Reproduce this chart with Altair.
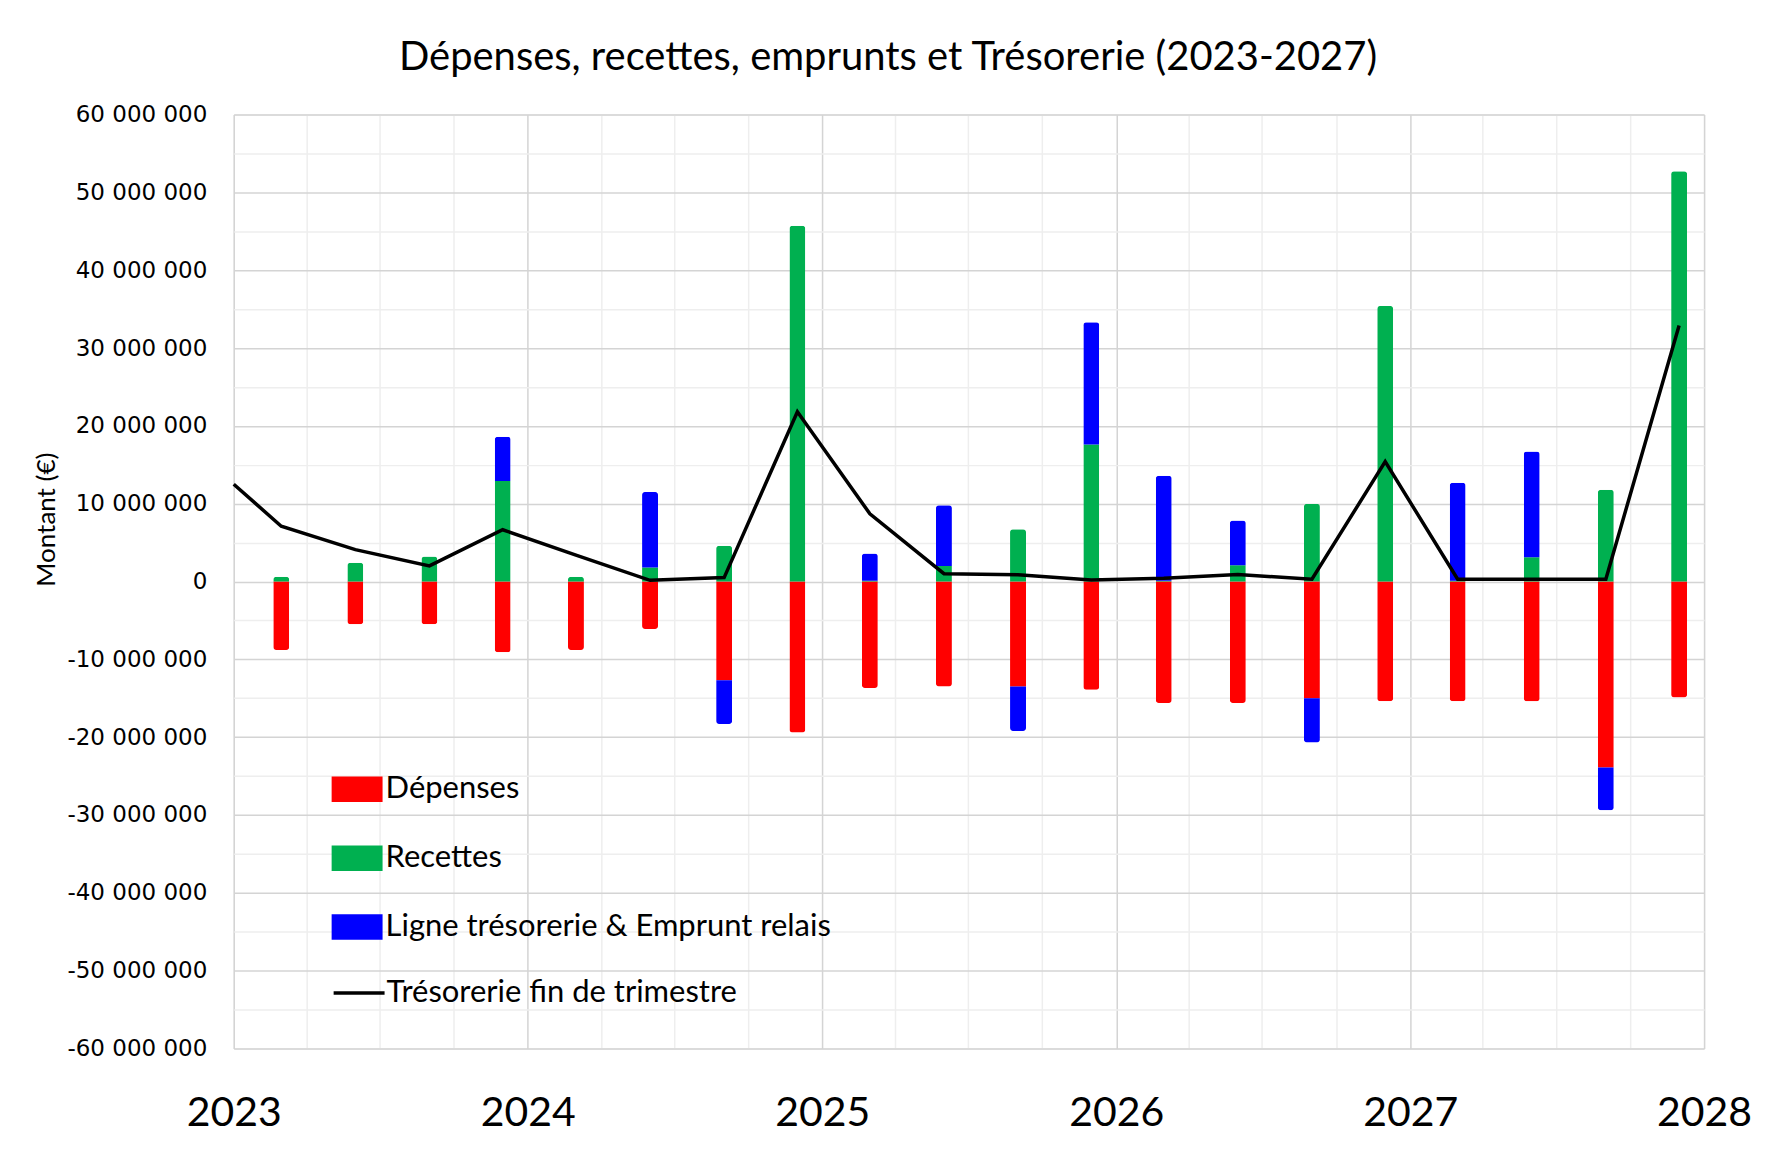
import altair as alt
import pandas as pd

# ---------------- data ----------------
dates = [
    "2023-03-01", "2023-06-01", "2023-09-01", "2023-12-01",
    "2024-03-01", "2024-06-01", "2024-09-01", "2024-12-01",
    "2025-03-01", "2025-06-01", "2025-09-01", "2025-12-01",
    "2026-03-01", "2026-06-01", "2026-09-01", "2026-12-01",
    "2027-03-01", "2027-06-01", "2027-09-01", "2027-12-01",
]
depenses = [
    -8_800_000, -5_500_000, -5_500_000, -9_100_000,
    -8_800_000, -6_100_000, -12_700_000, -19_400_000,
    -13_700_000, -13_500_000, -13_500_000, -13_900_000,
    -15_600_000, -15_600_000, -15_000_000, -15_400_000,
    -15_400_000, -15_400_000, -23_900_000, -14_900_000,
]
recettes = [
    600_000, 2_400_000, 3_200_000, 12_900_000,
    600_000, 1_800_000, 4_600_000, 45_700_000,
    100_000, 2_000_000, 6_700_000, 17_600_000,
    100_000, 2_100_000, 10_000_000, 35_400_000,
    100_000, 3_100_000, 11_800_000, 52_700_000,
]
ligne = [
    0, 0, 0, 5_700_000,
    0, 9_700_000, -5_600_000, 0,
    3_500_000, 7_800_000, -5_700_000, 15_700_000,
    13_500_000, 5_750_000, -5_700_000, 0,
    12_600_000, 13_600_000, -5_500_000, 0,
]
tresorerie_dates = ["2023-01-01"] + dates
tresorerie = [
    12_500_000,
    7_100_000, 4_100_000, 2_000_000, 6_650_000,
    3_400_000, 150_000, 500_000, 21_800_000,
    8_700_000, 1_000_000, 860_000, 200_000,
    430_000, 900_000, 300_000, 15_400_000,
    300_000, 300_000, 300_000, 32_900_000,
]

series_names = ["Dépenses", "Recettes", "Ligne trésorerie & Emprunt relais"]
series_colors = ["#FF0000", "#00B050", "#0000FF"]
line_name = "Trésorerie fin de trimestre"
title_text = "Dépenses, recettes, emprunts et Trésorerie (2023-2027)"
y_title = "Montant (€)"

y_ticks = [v * 5_000_000 for v in range(-12, 13)]
x_ticks = [alt.DateTime(year=y, month=m, date=1, utc=True)
           for y in range(2023, 2028) for m in (1, 4, 7, 10)]
x_ticks.append(alt.DateTime(year=2028, month=1, date=1, utc=True))

# ---------------- tables ----------------
rows = []
for i, d in enumerate(dates):
    for k, vals in enumerate([depenses, recettes, ligne]):
        rows.append({"date": d, "serie": series_names[k], "montant": vals[i], "ordre": k})
bars_df = pd.DataFrame(rows)
line_df = pd.DataFrame({"date": tresorerie_dates, "tresorerie": tresorerie,
                        "serie": [line_name] * len(tresorerie)})

# ---------------- scales / axes ----------------
x_scale = alt.Scale(type="utc", nice=False, padding=0,
                    domain=[alt.DateTime(year=2023, month=1, date=1, utc=True),
                            alt.DateTime(year=2028, month=1, date=1, utc=True)])
y_scale = alt.Scale(domain=[-60_000_000, 60_000_000], nice=False, zero=False)

x_axis = alt.Axis(
    values=x_ticks,
    labelExpr="utcmonth(datum.value) === 0 ? utcFormat(datum.value, '%Y') : ''",
    labelFont="Lato", labelFontSize=41, labelColor="black", labelPadding=45,
    labelFlush=False, labelOverlap=False, ticks=False, domain=False,
    grid=True, gridWidth=1.5,
    gridColor={"condition": {"test": "utcmonth(datum.value) === 0", "value": "#d4d4d4"},
               "value": "#eeeeee"},
)
y_axis = alt.Axis(
    values=y_ticks,
    labelExpr=("datum.value % 10000000 === 0 ? "
               "((datum.value < 0 ? '-' : '') + "
               "replace(replace(format(abs(datum.value), ','), ',', ' '), ',', ' ')) : ''"),
    labelFont="DejaVu Sans", labelFontSize=23, labelColor="black", labelPadding=27,
    labelFlush=False, labelOverlap=False, ticks=False, domain=False,
    grid=True, gridWidth=1.5,
    gridColor={"condition": {"test": "datum.value % 10000000 === 0", "value": "#d4d4d4"},
               "value": "#eeeeee"},
    title=y_title, titleFont="Lato", titleFontSize=26, titleFontWeight="normal",
    titleColor="black", titleX=-187, titleY=405, titleBaseline="middle", titleAlign="center",
)

bars = alt.Chart(bars_df).mark_bar(size=16, cornerRadius=3).encode(
    x=alt.X("date:T", scale=x_scale, axis=x_axis, title=None),
    y=alt.Y("montant:Q", stack="zero", scale=y_scale, axis=y_axis),
    color=alt.Color("serie:N",
                    scale=alt.Scale(domain=series_names, range=series_colors),
                    legend=alt.Legend(title=None, orient="none", legendX=98, legendY=650,
                                      symbolType="M-1,-0.5H1V0.5H-1Z", symbolSize=2601,
                                      symbolStrokeWidth=0, symbolOpacity=1,
                                      labelFont="Lato", labelFontSize=31, labelColor="black",
                                      labelOffset=3, labelLimit=1000, rowPadding=28,
                                      padding=0)),
    order=alt.Order("ordre:Q", sort="ascending"),
)

line = alt.Chart(line_df).mark_line(strokeWidth=3.5).encode(
    x=alt.X("date:T", scale=x_scale, axis=x_axis, title=None),
    y=alt.Y("tresorerie:Q", scale=y_scale, axis=y_axis),
    stroke=alt.Stroke("serie:N",
                      scale=alt.Scale(domain=[line_name], range=["black"]),
                      legend=alt.Legend(title=None, orient="none", legendX=98, legendY=648 + 3 * 68,
                                        symbolType="stroke", symbolSize=2601,
                                        symbolStrokeWidth=3.5,
                                        labelFont="Lato", labelFontSize=31, labelColor="black",
                                        labelOffset=0, labelLimit=1000, padding=0)),
)

chart = alt.layer(bars, line).properties(
    width=1472,
    height=935,
    autosize=alt.AutoSizeParams(type="none"),
    padding={"left": 226, "top": 106, "right": 60, "bottom": 95},
    title=alt.Title(title_text, font="Lato", fontSize=40, fontWeight="normal",
                    color="black", anchor="middle", dx=-81, dy=42, offset=28, baseline="bottom"),
).configure_view(stroke="#898989", strokeWidth=2).configure(background="white")

chart.save("out.html", embed_options={"renderer": "svg", "actions": False})
